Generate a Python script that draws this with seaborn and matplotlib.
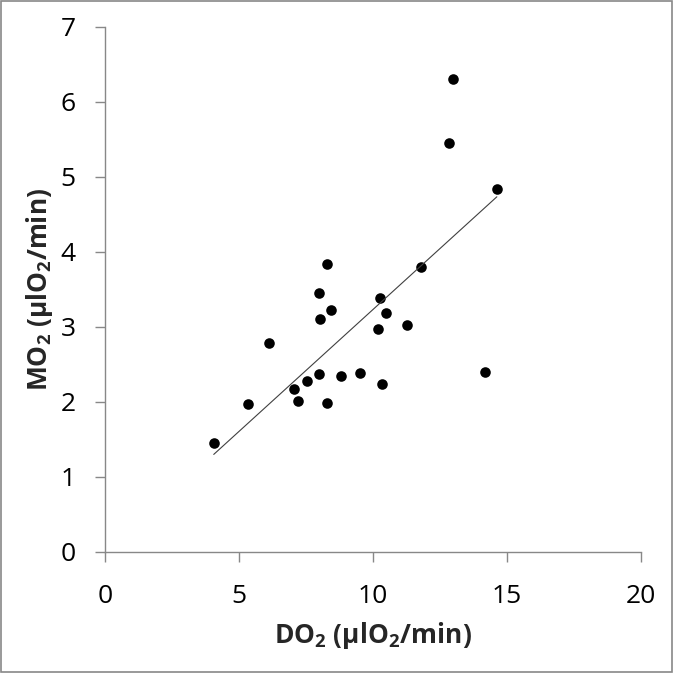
import numpy as np
import pandas as pd
import matplotlib
matplotlib.use("Agg")
import matplotlib.pyplot as plt
import seaborn as sns

# DO2 vs MO2 readings (µlO2/min)
do2 = [4.06, 5.35, 6.14, 7.07, 7.20, 7.56, 7.98, 7.98, 8.01, 8.28, 8.43, 8.28,
       8.81, 9.52, 10.18, 10.25, 10.48, 10.34, 11.26, 11.79, 12.83, 12.98,
       14.18, 14.63]
mo2 = [1.45, 1.97, 2.79, 2.17, 2.01, 2.28, 2.37, 3.45, 3.10, 3.84, 3.22, 1.99,
       2.35, 2.39, 2.97, 3.39, 3.19, 2.24, 3.03, 3.80, 5.45, 6.30,
       2.40, 4.84]
# trendline as drawn in the chart
trend_slope = 0.325
trend_intercept = -0.02
x_ticks = [0, 5, 10, 15, 20]
y_ticks = [0, 1, 2, 3, 4, 5, 6, 7]

df = pd.DataFrame({"DO2": do2, "MO2": mo2})

sns.set_style("white")
plt.rcParams["font.family"] = ["Open Sans", "DejaVu Sans"]
plt.rcParams["mathtext.default"] = "regular"

fig = plt.figure(figsize=(6.73, 6.73), dpi=100)
ax = fig.add_axes([0.156, 0.180, 0.796, 0.780])

sns.scatterplot(data=df, x="DO2", y="MO2", ax=ax, s=58, color="black",
                linewidth=0)

trend_x = np.array([df["DO2"].min(), df["DO2"].max()])
sns.lineplot(x=trend_x, y=trend_slope * trend_x + trend_intercept, ax=ax,
             color="#404040", linewidth=0.8)

ax.set_xlim(0, 20)
ax.set_ylim(0, 7)
ax.set_xticks(x_ticks)
ax.set_yticks(y_ticks)
ax.tick_params(axis="both", labelsize=19, colors="#888888", length=7,
               width=1, labelcolor="black", direction="out")
ax.tick_params(axis="x", pad=16)
ax.tick_params(axis="y", pad=14)
ax.xaxis.set_ticks_position("bottom")
ax.yaxis.set_ticks_position("left")

for side in ["top", "right"]:
    ax.spines[side].set_visible(False)
for side in ["left", "bottom"]:
    ax.spines[side].set_color("#888888")
    ax.spines[side].set_linewidth(1)

ax.set_xlabel("DO$_2$ (µlO$_2$/min)", fontsize=19, fontweight="bold", labelpad=8)
ax.set_ylabel("MO$_2$ (µlO$_2$/min)", fontsize=19, fontweight="bold", labelpad=4)

# outer chart border
fig.patches.append(plt.Rectangle((0.001, 0.001), 0.998, 0.998, transform=fig.transFigure,
                                 fill=False, edgecolor="#888888", linewidth=1.2))

plt.savefig("out.png", dpi=100)
